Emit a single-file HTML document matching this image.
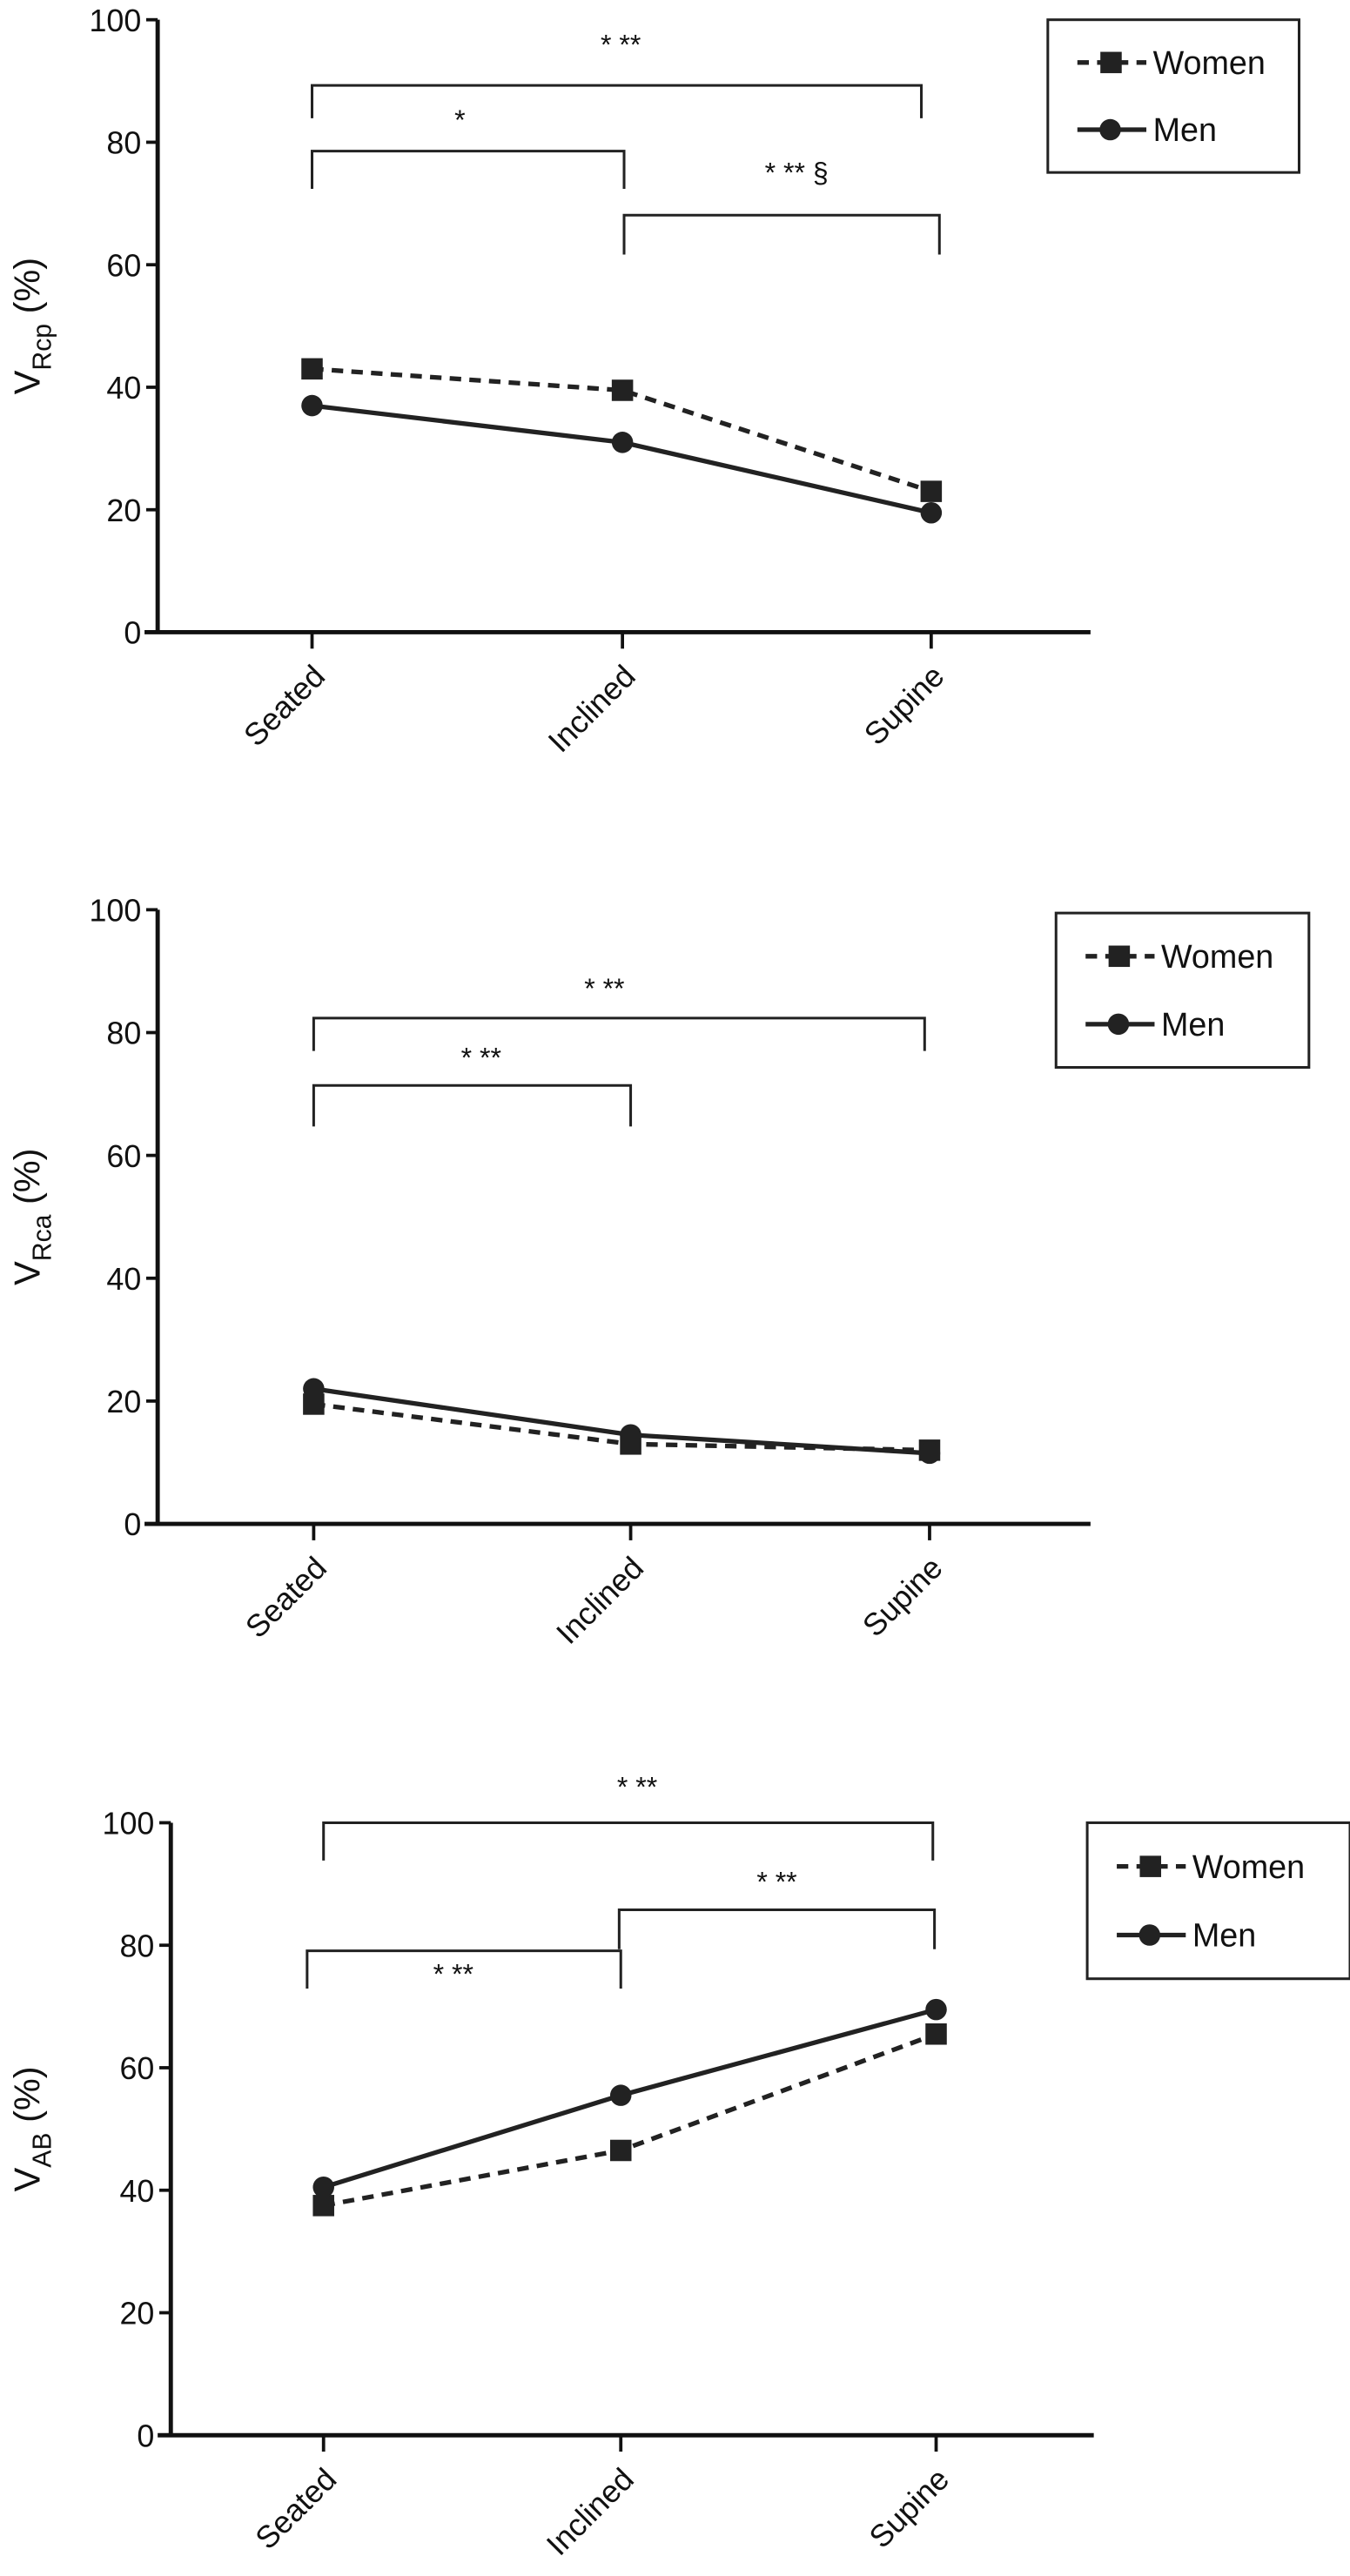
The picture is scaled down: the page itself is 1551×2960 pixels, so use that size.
<!DOCTYPE html>
<html><head><meta charset="utf-8"><style>
html,body{margin:0;padding:0;background:#fff;}
svg{display:block;font-family:"Liberation Sans",sans-serif;}
</style></head><body>
<svg id="fig" width="1551" height="2960" viewBox="0 0 822 1568.7" xmlns="http://www.w3.org/2000/svg"></svg>
<script>
const categories = ["Seated","Inclined","Supine"];
const yTicks = [0,20,40,60,80,100];
const rcpWomen = [43,39.5,23];
const rcpMen = [37,31,19.5];
const rcaWomen = [19.5,13,12];
const rcaMen = [22,14.5,11.5];
const abWomen = [37.5,46.5,65.5];
const abMen = [40.5,55.5,69.5];
const rcpLabel = ["Rcp"], rcaLabel = ["Rca"], abLabel = ["AB"];

const NS="http://www.w3.org/2000/svg";
const svg=document.getElementById('fig');
function mk(tag,attrs,parent){const e=document.createElementNS(NS,tag);for(const k in attrs)e.setAttribute(k,attrs[k]);(parent||svg).appendChild(e);return e;}

const panels=[
 {name:'rcp',sub:rcpLabel[0],women:rcpWomen,men:rcpMen,ax:96,x1:664,top:12,bot:385,cx:[190,379,567],
  legend:[638,12,153,93],
  brackets:[[190,561,52,72,'* **',378,26],[190,380,92,115,'*',280,72],[380,572,131,155,'* ** §',485,104]]},
 {name:'rca',sub:rcaLabel[0],women:rcaWomen,men:rcaMen,ax:96,x1:664,top:554,bot:928,cx:[191,384,566],
  legend:[643,556,154,94],
  brackets:[[191,563,620,640,'* **',368,601],[191,384,661,686,'* **',293,643]]},
 {name:'ab',sub:abLabel[0],women:abWomen,men:abMen,ax:104,x1:666,top:1110,bot:1483,cx:[197,378,570],
  legend:[662,1110,160,95],
  brackets:[[197,568,1110,1133,'* **',388,1087],[377,569,1163,1187,'* **',473,1145],[187,378,1188,1211,'* **',276,1201]]}
];

panels.forEach(p=>{
 const g=mk('g',{});
 
 
 const y=v=>p.bot-(v/100)*(p.bot-p.top);
 const x=i=>p.cx[i];
 const ya=mk('line',{x1:p.ax,y1:p.top,x2:p.ax,y2:p.bot,stroke:'#111','stroke-width':2.6},g);
 
 const xa=mk('line',{x1:p.ax-8,y1:p.bot,x2:p.x1,y2:p.bot,stroke:'#111','stroke-width':2.6},g);
 
 yTicks.forEach(t=>{
  mk('line',{x1:p.ax-7,y1:y(t),x2:p.ax,y2:y(t),stroke:'#111','stroke-width':2},g);
  const tl=mk('text',{x:p.ax-10,y:y(t)+7,'text-anchor':'end','font-size':19,fill:'#111'},g);
  tl.textContent=t;
  
 });
 categories.forEach((c,i)=>{
  mk('line',{x1:x(i),y1:p.bot,x2:x(i),y2:p.bot+10,stroke:'#111','stroke-width':2},g);
  const tl=mk('text',{x:x(i)+9,y:p.bot+28,'text-anchor':'end','font-size':19,fill:'#111',transform:`rotate(-45 ${x(i)+9} ${p.bot+28})`},g);
  tl.textContent=c;
  
 });
 const cy=(p.top+p.bot)/2;
 const yt=mk('text',{x:24,y:cy,'text-anchor':'middle','font-size':22,fill:'#111',transform:`rotate(-90 24 ${cy})`},g);
 
 yt.innerHTML=`V<tspan font-size="16" dy="7">${p.sub}</tspan><tspan dy="-7"> (%)</tspan>`;
 p.brackets.forEach(b=>{
  const br=mk('path',{d:`M${b[0]} ${b[3]} V${b[2]} H${b[1]} V${b[3]}`,fill:'none',stroke:'#222','stroke-width':1.6},g);
  
  const bt=mk('text',{x:b[5],y:b[6]+7,'text-anchor':'middle','font-size':17,fill:'#111'},g);
  bt.textContent=b[4];
  
 });
 const wl=mk('polyline',{points:p.women.map((v,i)=>x(i)+','+y(v)).join(' '),fill:'none',stroke:'#222','stroke-width':2.8,'stroke-dasharray':'7,5'},g);
 
 const ml=mk('polyline',{points:p.men.map((v,i)=>x(i)+','+y(v)).join(' '),fill:'none',stroke:'#222','stroke-width':2.8},g);
 
 p.women.forEach((v,i)=>{
  const m=mk('rect',{x:x(i)-6.5,y:y(v)-6.5,width:13,height:13,fill:'#222'},g);
  
 });
 p.men.forEach((v,i)=>{
  const m=mk('circle',{cx:x(i),cy:y(v),r:6.5,fill:'#222'},g);
  
 });
 const [lx,ly,lw,lh]=p.legend;
 const lg=mk('g',{},g);
 
 mk('rect',{x:lx,y:ly,width:lw,height:lh,fill:'#fff',stroke:'#222','stroke-width':1.6},lg);
 const r1=ly+lh*0.28, r2=ly+lh*0.72;
 mk('line',{x1:lx+18,y1:r1,x2:lx+60,y2:r1,stroke:'#222','stroke-width':2.8,'stroke-dasharray':'7,5'},lg);
 mk('rect',{x:lx+32,y:r1-6.5,width:13,height:13,fill:'#222'},lg);
 const t1=mk('text',{x:lx+64,y:r1+7,'font-size':20,fill:'#111'},lg);t1.textContent='Women';
 
 mk('line',{x1:lx+18,y1:r2,x2:lx+60,y2:r2,stroke:'#222','stroke-width':2.8},lg);
 mk('circle',{cx:lx+38,cy:r2,r:6.5,fill:'#222'},lg);
 const t2=mk('text',{x:lx+64,y:r2+7,'font-size':20,fill:'#111'},lg);t2.textContent='Men';
 
});
</script>
</body></html>
